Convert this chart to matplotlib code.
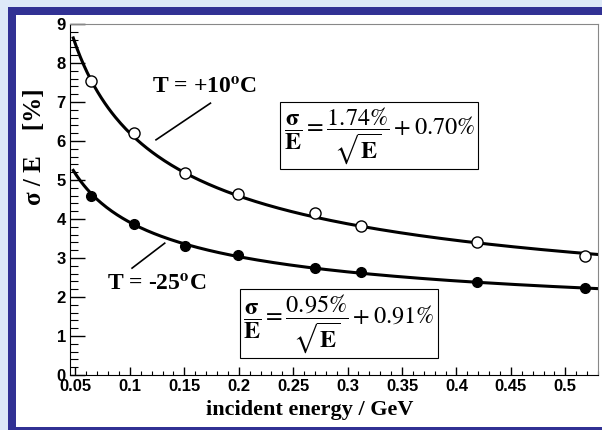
import numpy as np
import matplotlib.pyplot as plt
from matplotlib.patches import Rectangle
from matplotlib.ticker import MultipleLocator

plt.rcParams['mathtext.fontset'] = 'stix'

# measured points (incident energy in GeV, sigma/E in %)
energy = [0.064, 0.104, 0.151, 0.199, 0.270, 0.312, 0.419, 0.518]
res_warm = [7.55, 6.20, 5.18, 4.64, 4.15, 3.82, 3.40, 3.05]   # T = +10 C, open circles
res_cold = [4.60, 3.88, 3.32, 3.07, 2.75, 2.63, 2.38, 2.24]   # T = -25 C, filled circles

# fit parameters printed on the chart: sigma/E = a/sqrt(E) + b
fit_warm = (1.74, 0.70)
fit_cold = (0.95, 0.91)
fit_range = (0.048, 0.53)

xticks = [0.05, 0.1, 0.15, 0.2, 0.25, 0.3, 0.35, 0.4, 0.45, 0.5]
xticklabels = ['0.05', '0.1', '0.15', '0.2', '0.25', '0.3', '0.35', '0.4', '0.45', '0.5']

W, H = 602, 430
fig = plt.figure(figsize=(W / 100, H / 100), dpi=100)
fig.patch.set_facecolor('#dde9f8')
# dark blue frame and white panel
fig.add_artist(Rectangle((8 / W, 0), 1, 1 - 7 / H, transform=fig.transFigure,
                         fc='#313194', ec='none', zorder=-3))
fig.add_artist(Rectangle((16 / W, 3 / H), 1, 1 - 18 / H, transform=fig.transFigure,
                         fc='white', ec='none', zorder=-2))

ax = fig.add_axes([70 / W, 55 / H, 528 / W, 351 / H])
ax.set_facecolor('white')

e = np.linspace(fit_range[0], fit_range[1], 300)
ax.plot(e, fit_warm[0] / np.sqrt(e) + fit_warm[1], color='black', lw=2.2)
ax.plot(e, fit_cold[0] / np.sqrt(e) + fit_cold[1], color='black', lw=2.2)
ax.plot(energy, res_warm, 'o', mfc='white', mec='black', ms=8, mew=1.0)
ax.plot(energy, res_cold, 'o', mfc='black', mec='black', ms=7)

ax.set_xlim(0.045, 0.53)
ax.set_ylim(0, 9)
ax.set_xticks(xticks)
ax.set_xticklabels(xticklabels)
ax.xaxis.set_minor_locator(MultipleLocator(0.01))
ax.yaxis.set_major_locator(MultipleLocator(1))
ax.yaxis.set_minor_locator(MultipleLocator(0.2))
ax.tick_params(axis='y', which='major', direction='in', length=11, width=1, pad=3)
ax.tick_params(axis='y', which='minor', direction='in', length=6, width=0.8)
ax.tick_params(axis='x', which='major', direction='in', length=6, width=1, pad=3)
ax.tick_params(axis='x', which='minor', direction='in', length=3, width=0.8)
for lab in ax.get_xticklabels() + ax.get_yticklabels():
    lab.set_fontfamily('Liberation Sans')
    lab.set_fontweight('bold')
    lab.set_fontsize(12)
for s in ['top', 'right']:
    ax.spines[s].set_color('#888888')
    ax.spines[s].set_linewidth(0.8)

ax.set_xlabel('incident energy / GeV', family='Liberation Serif', fontweight='bold', fontsize=16)
ax.xaxis.set_label_coords(0.455, -0.072)
ax.set_ylabel('σ / E    [%]', family='Liberation Serif', fontweight='bold', fontsize=18)
ax.yaxis.set_label_coords(-0.045, 0.65)

# temperature labels with leader lines
ax.text(0.169, 7.36, r'T = +10$^{\mathbf{o}}$C', family='Liberation Serif', fontweight='bold',
        fontsize=17, ha='center', va='center')
ax.plot([0.124, 0.174], [6.03, 6.97], color='black', lw=1.2)
ax.text(0.079, 2.31, r'T = -25$^{\mathbf{o}}$C', family='Liberation Serif', fontweight='bold',
        fontsize=17, ha='left', va='center')
ax.plot([0.102, 0.132], [2.74, 3.38], color='black', lw=1.2)

box = dict(boxstyle='square,pad=0.15', fc='white', ec='black', lw=0.8)
eq = r'$\mathbf{\dfrac{σ}{E}} = \dfrac{%.2f\%%}{\sqrt{\mathbf{E}}} + %.2f\%%$'
ax.text(0.329, 6.14, eq % fit_warm, fontsize=17.5, ha='center', va='center', bbox=box)
ax.text(0.292, 1.32, eq % fit_cold, fontsize=17.5, ha='center', va='center', bbox=box)

fig.savefig('out.png', dpi=100, facecolor=fig.get_facecolor())
